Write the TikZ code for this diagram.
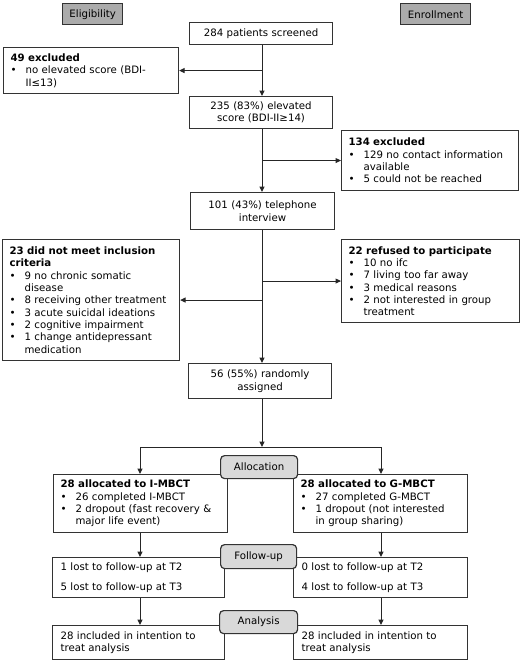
\documentclass[tikz,border=0pt]{standalone}
\usepackage{fontspec}
\setmainfont{DejaVu Sans}
\usetikzlibrary{arrows.meta}
\newcommand{\bul}{\makebox[15pt][l]{\textbullet}}
\newcommand{\ind}{\hspace*{15pt}}
\begin{document}
\begin{tikzpicture}[x=1pt,y=-1pt,
  font=\fontsize{10.2}{12.3}\selectfont,
  line width=1pt, draw=black!85,
  box/.style={draw=black!80, line width=1.1pt, anchor=north west, inner xsep=7pt, inner ysep=2pt, align=left, fill=white},
  cbox/.style={box, align=center},
  head/.style={draw=black!80, line width=1.4pt, fill=black!33, anchor=north west, inner sep=0pt, align=center},
  stage/.style={draw=black!80, line width=1.2pt, fill=black!15, rounded corners=4pt, anchor=north west, inner sep=0pt, align=center},
  arr/.style={-{Triangle[length=5.5pt,width=5pt]}, draw=black!85, line width=1pt}]
\useasboundingbox (0,0) rectangle (520,661);
\coordinate (sp) at (262,0);
\coordinate (lc) at (140,0);
\coordinate (rc) at (381,0);
\coordinate (split) at (262,447);

\node[head, minimum width=60pt, minimum height=21pt] (elig) at (62,3) {Eligibility};
\node[head, minimum width=70pt, minimum height=21pt] (enrol) at (400,3) {Enrollment};

\node[cbox, minimum width=143pt, minimum height=22pt, text width=129pt] (scr) at (189,22) {284 patients screened};
\node[box, minimum width=175pt, minimum height=46pt, text width=161pt] (ex1) at (3,47)
  {\textbf{49 excluded}\\\bul no elevated score (BDI-\\\ind II≤13)};
\node[cbox, minimum width=143pt, minimum height=32pt, text width=129pt] (elev) at (189,96) {235 (83\%) elevated\\score (BDI-II≥14)};
\node[box, minimum width=177pt, minimum height=60pt, text width=163pt] (ex2) at (341,130)
  {\textbf{134 excluded}\\\bul 129 no contact information\\\ind available\\\bul 5 could not be reached};
\node[cbox, minimum width=144pt, minimum height=37pt, text width=130pt] (tel) at (190,192) {101 (43\%) telephone\\interview};
\node[box, minimum width=177pt, minimum height=121pt, text width=163pt] (nm) at (2,239)
  {\textbf{23 did not meet inclusion}\\\textbf{criteria}\\\bul 9 no chronic somatic\\\ind disease\\\bul 8 receiving other treatment\\\bul 3 acute suicidal ideations\\\bul 2 cognitive impairment\\\bul 1 change antidepressant\\\ind medication};
\node[box, minimum width=178pt, minimum height=83pt, text width=164pt] (ref) at (341,239)
  {\textbf{22 refused to participate}\\\bul 10 no ifc\\\bul 7 living too far away\\\bul 3 medical reasons\\\bul 2 not interested in group\\\ind treatment};
\node[cbox, minimum width=143pt, minimum height=35pt, text width=129pt] (rand) at (188,363) {56 (55\%) randomly\\assigned};

\node[box, minimum width=174pt, minimum height=58pt, text width=160pt] (a1) at (53,474)
  {\textbf{28 allocated to I-MBCT}\\\bul 26 completed I-MBCT\\\bul 2 dropout (fast recovery \&\\\ind major life event)};
\node[box, minimum width=174pt, minimum height=58pt, text width=160pt] (a2) at (293,474)
  {\textbf{28 allocated to G-MBCT}\\\bul 27 completed G-MBCT\\\bul 1 dropout (not interested\\\ind in group sharing)};
\node[box, minimum width=172pt, minimum height=40pt, text width=156pt, inner xsep=8pt] (f1) at (52,557)
  {1 lost to follow-up at T2\\[7pt]5 lost to follow-up at T3};
\node[box, minimum width=174pt, minimum height=40pt, text width=158pt, inner xsep=8pt] (f2) at (293,557)
  {0 lost to follow-up at T2\\[7pt]4 lost to follow-up at T3};
\node[box, minimum width=172pt, minimum height=34pt, text width=156pt, inner xsep=8pt] (n1) at (52,625)
  {28 included in intention to\\treat analysis};
\node[box, minimum width=174pt, minimum height=34pt, text width=158pt, inner xsep=8pt] (n2) at (293,625)
  {28 included in intention to\\treat analysis};

% spine
\draw[arr] (sp |- scr.south) -- (sp |- elev.north);
\draw[arr] (sp |- ex1.east) -- (ex1.east);
\draw[arr] (sp |- elev.south) -- (sp |- tel.north);
\draw[arr] (sp |- ex2.west) -- (ex2.west);
\draw[arr] (sp |- tel.south) -- (sp |- rand.north);
\draw[arr] (sp |- ref.west) -- (ref.west);
\draw[arr] (sp |- nm.east) -- (nm.east);
\draw[arr] (sp |- rand.south) -- (split);
\draw[arr] (split) -| (lc |- a1.north);
\draw[arr] (split) -| (rc |- a2.north);
\draw[arr] (lc |- a1.south) -- (lc |- f1.north);
\draw[arr] (rc |- a2.south) -- (rc |- f2.north);
\draw[arr] (lc |- f1.south) -- (lc |- n1.north);
\draw[arr] (rc |- f2.south) -- (rc |- n2.north);

\node[stage, minimum width=77pt, minimum height=23pt] (allocL) at (220,455) {Allocation};
\node[stage, minimum width=76pt, minimum height=24pt] (follL) at (220,544) {Follow-up};
\node[stage, minimum width=78pt, minimum height=23pt] (anaL) at (219,610) {Analysis};
\end{tikzpicture}
\end{document}
